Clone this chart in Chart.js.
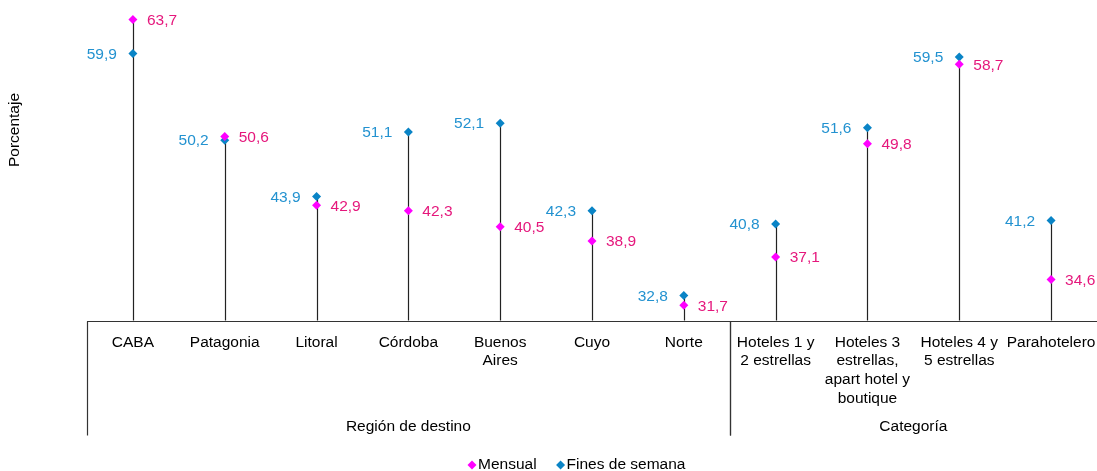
<!DOCTYPE html>
<html>
<head>
<meta charset="utf-8">
<script src="https://cdn.jsdelivr.net/npm/chart.js@4/dist/chart.umd.min.js"></script>
<style>
  body { margin: 0; background: #fff; }
  #wrap { width: 1097px; height: 471px; }
</style>
</head>
<body>
<div id="wrap"><canvas id="chart" width="1097" height="471"></canvas></div>
<script>
// Categories (multi-line labels) and groups
const categories = [
    ['CABA'], ['Patagonia'], ['Litoral'], ['Córdoba'], ['Buenos', 'Aires'], ['Cuyo'], ['Norte'],
    ['Hoteles 1 y', '2 estrellas'], ['Hoteles 3', 'estrellas,', 'apart hotel y', 'boutique'],
    ['Hoteles 4 y', '5 estrellas'], ['Parahotelero']
];
const groups = [
    { label: 'Región de destino', from: 0, to: 6 },
    { label: 'Categoría', from: 7, to: 10 }
];

// Series values (%)
const mensual = [63.7, 50.6, 42.9, 42.3, 40.5, 38.9, 31.7, 37.1, 49.8, 58.7, 34.6];
const finesDeSemana = [59.9, 50.2, 43.9, 51.1, 52.1, 42.3, 32.8, 40.8, 51.6, 59.5, 41.2];

const FONT = 'Liberation Sans, Arial, sans-serif';
const SIZE = 15.5;
const fmt = v => v.toFixed(1).replace('.', ',');

// Drop lines from the baseline to the highest point of each category
const dropLines = {
    id: 'dropLines',
    beforeDatasetsDraw(chart) {
        const { ctx, scales: { x, y } } = chart;
        ctx.save();
        ctx.strokeStyle = '#222';
        ctx.lineWidth = 1.2;
        categories.forEach((c, i) => {
            const px = Math.round(x.getPixelForValue(i)) + 0.5;
            const top = y.getPixelForValue(Math.max(mensual[i], finesDeSemana[i]));
            ctx.beginPath();
            ctx.moveTo(px, y.bottom);
            ctx.lineTo(px, top);
            ctx.stroke();
        });
        ctx.restore();
    }
};

// Value labels, axis labels, group labels, separators and legend
const decorations = {
    id: 'decorations',
    afterDraw(chart) {
        const { ctx, scales: { x, y } } = chart;
        ctx.save();
        ctx.font = SIZE + 'px ' + FONT;
        ctx.textBaseline = 'middle';

        // data labels
        chart.data.datasets.forEach((ds, di) => {
            ds.data.forEach((v, i) => {
                const px = x.getPixelForValue(i);
                const py = y.getPixelForValue(v);
                if (di === 0) {
                    ctx.fillStyle = '#E5177C';
                    ctx.textAlign = 'left';
                    ctx.fillText(fmt(v), px + 14, py + 1);
                } else {
                    ctx.fillStyle = '#2392D0';
                    ctx.textAlign = 'right';
                    ctx.fillText(fmt(v), px - 16, py + 1);
                }
            });
        });

        // axis line
        const base = Math.round(y.bottom) + 0.5;
        ctx.strokeStyle = '#333';
        ctx.lineWidth = 1.2;
        ctx.beginPath();
        ctx.moveTo(x.left, base);
        ctx.lineTo(x.right, base);
        ctx.stroke();

        // category labels
        ctx.fillStyle = '#000';
        ctx.textAlign = 'center';
        categories.forEach((lines, i) => {
            const px = x.getPixelForValue(i);
            lines.forEach((t, li) => ctx.fillText(t, px, base + 21 + li * 18.6));
        });

        // group separators and labels
        const half = (x.getPixelForValue(1) - x.getPixelForValue(0)) / 2;
        groups.forEach(g => {
            const l = x.getPixelForValue(g.from) - half;
            const r = x.getPixelForValue(g.to) + half;
            [l, r].forEach(sx => {
                const xx = Math.round(sx) + 0.5;
                if (xx > chart.width - 2) return; // right edge falls outside the picture
                ctx.beginPath();
                ctx.moveTo(xx, base);
                ctx.lineTo(xx, base + 114);
                ctx.stroke();
            });
            ctx.fillText(g.label, (l + r) / 2, base + 105);
        });

        // legend
        let lx = 472;
        chart.data.datasets.forEach(ds => {
            ctx.fillStyle = ds.backgroundColor;
            ctx.beginPath();
            ctx.moveTo(lx, 460.5);
            ctx.lineTo(lx + 4.5, 465);
            ctx.lineTo(lx, 469.5);
            ctx.lineTo(lx - 4.5, 465);
            ctx.closePath();
            ctx.fill();
            ctx.fillStyle = '#000';
            ctx.textAlign = 'left';
            ctx.fillText(ds.label, lx + 6, 465);
            lx += 6 + ctx.measureText(ds.label).width + 24;
        });

        // y axis title
        ctx.translate(15, 130);
        ctx.rotate(-Math.PI / 2);
        ctx.textAlign = 'center';
        ctx.fillText('Porcentaje', 0, 0);
        ctx.restore();
    }
};

new Chart(document.getElementById('chart'), {
    type: 'line',
    data: {
        labels: categories,
        datasets: [
            {
                label: 'Mensual',
                data: mensual,
                showLine: false,
                pointStyle: 'rectRot',
                pointRadius: 4.5,
                backgroundColor: '#FF00FF',
                borderColor: '#FF00FF',
                borderWidth: 0
            },
            {
                label: 'Fines de semana',
                data: finesDeSemana,
                showLine: false,
                pointStyle: 'rectRot',
                pointRadius: 4.5,
                backgroundColor: '#0A84C6',
                borderColor: '#0A84C6',
                borderWidth: 0
            }
        ]
    },
    options: {
        responsive: false,
        animation: false,
        layout: { autoPadding: false, padding: { left: 87, right: 0, top: 8, bottom: 0 } },
        plugins: {
            tooltip: { enabled: false },
            legend: { display: false }
        },
        scales: {
            x: {
                offset: true,
                grid: { display: false, drawTicks: false },
                border: { display: false },
                ticks: { display: false },
                afterFit: scale => { scale.height = 150.5; }
            },
            y: {
                display: false,
                min: 30,
                max: 65
            }
        }
    },
    plugins: [dropLines, decorations]
});
</script>
</body>
</html>
